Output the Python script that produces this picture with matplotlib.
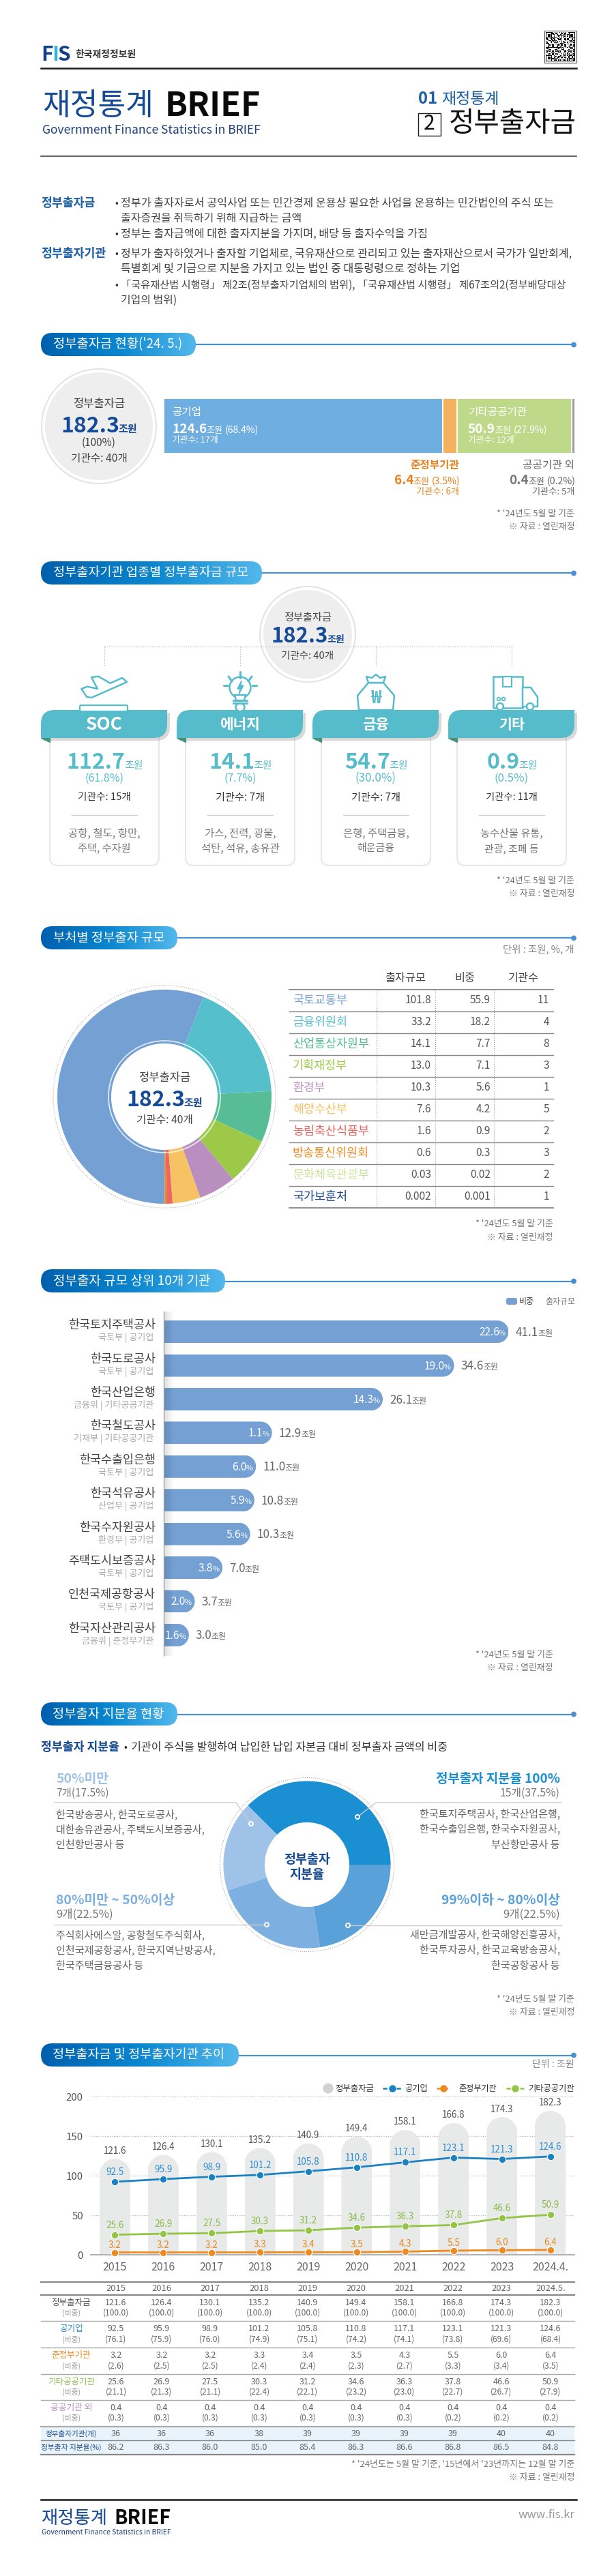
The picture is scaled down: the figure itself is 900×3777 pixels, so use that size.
import numpy as np
import matplotlib
matplotlib.use('Agg')
import matplotlib.pyplot as plt
from matplotlib.patches import Circle, FancyBboxPatch, PathPatch, Polygon, Rectangle, Ellipse
from matplotlib.path import Path
from matplotlib.colors import LinearSegmentedColormap

plt.rcParams['font.family'] = ['Noto Sans CJK KR', 'DejaVu Sans']

# ---- data ----
total_amount = '182.3'
total_count = '기관수: 40개'

# current status stacked bar
seg_names = ['공기업', '준정부기관', '기타공공기관', '공공기관 외']
seg_values = [124.6, 6.4, 50.9, 0.4]
seg_shares = ['68.4%', '3.5%', '27.9%', '0.2%']
seg_counts = [17, 6, 12, 5]
seg_colors = ['#6eaee0', '#f5b25e', '#bfd98a', '#a0a0a0']

# sectors
sector_names = ['SOC', '에너지', '금융', '기타']
sector_values = ['112.7', '14.1', '54.7', '0.9']
sector_shares = ['61.8%', '7.7%', '30.0%', '0.5%']
sector_counts = [15, 7, 7, 11]
sector_desc = [['공항, 철도, 항만,', '주택, 수자원'], ['가스, 전력, 광물,', '석탄, 석유, 송유관'],
               ['은행, 주택금융,', '해운금융'], ['농수산물 유통,', '관광, 조폐 등']]

# ministries
ministry_names = ['국토교통부', '금융위원회', '산업통상자원부', '기획재정부', '환경부', '해양수산부',
                  '농림축산식품부', '방송통신위원회', '문화체육관광부', '국가보훈처']
ministry_amount = ['101.8', '33.2', '14.1', '13.0', '10.3', '7.6', '1.6', '0.6', '0.03', '0.002']
ministry_share = [55.9, 18.2, 7.7, 7.1, 5.6, 4.2, 0.9, 0.3, 0.02, 0.001]
ministry_share_txt = ['55.9', '18.2', '7.7', '7.1', '5.6', '4.2', '0.9', '0.3', '0.02', '0.001']
ministry_count = [11, 4, 8, 3, 1, 5, 2, 3, 2, 1]
ministry_colors = ['#74a0d4', '#55bfcc', '#56bd96', '#9cc948', '#b98fc0', '#f7c263', '#ee6660', '#ee8a1f',
                   '#cde29a', '#1a4a8c']

# top 10
top_names = ['한국토지주택공사', '한국도로공사', '한국산업은행', '한국철도공사', '한국수출입은행',
             '한국석유공사', '한국수자원공사', '주택도시보증공사', '인천국제공항공사', '한국자산관리공사']
top_subs = ['국토부 | 공기업', '국토부 | 공기업', '금융위 | 기타공공기관', '기재부 | 기타공공기관', '국토부 | 공기업',
            '산업부 | 공기업', '환경부 | 공기업', '국토부 | 공기업', '국토부 | 공기업', '금융위 | 준정부기관']
top_amount = [41.1, 34.6, 26.1, 12.9, 11.0, 10.8, 10.3, 7.0, 3.7, 3.0]
top_share = ['22.6%', '19.0%', '14.3%', '1.1%', '6.0%', '5.9%', '5.6%', '3.8%', '2.0%', '1.6%']

# stake donut
stake_values = [37.5, 17.5, 22.5, 22.5]
stake_colors = ['#1a8fd1', '#9fc3e8', '#7db0e0', '#5aa1da']

# trend
years = ['2015', '2016', '2017', '2018', '2019', '2020', '2021', '2022', '2023', '2024.4.']
table_years = ['2015', '2016', '2017', '2018', '2019', '2020', '2021', '2022', '2023', '2024.5.']
gov_total = [121.6, 126.4, 130.1, 135.2, 140.9, 149.4, 158.1, 166.8, 174.3, 182.3]
public_corp = [92.5, 95.9, 98.9, 101.2, 105.8, 110.8, 117.1, 123.1, 121.3, 124.6]
quasi_gov = [3.2, 3.2, 3.2, 3.3, 3.4, 3.5, 4.3, 5.5, 6.0, 6.4]
other_pub = [25.6, 26.9, 27.5, 30.3, 31.2, 34.6, 36.3, 37.8, 46.6, 50.9]
non_pub = [0.4, 0.4, 0.4, 0.4, 0.4, 0.4, 0.4, 0.4, 0.4, 0.4]
total_pct = [100.0] * 10
public_pct = [76.1, 75.9, 76.0, 74.9, 75.1, 74.2, 74.1, 73.8, 69.6, 68.4]
quasi_pct = [2.6, 2.5, 2.5, 2.4, 2.4, 2.3, 2.7, 3.3, 3.4, 3.5]
other_pct = [21.1, 21.3, 21.1, 22.4, 22.1, 23.2, 23.0, 22.7, 26.7, 27.9]
non_pct = [0.3, 0.3, 0.3, 0.3, 0.3, 0.3, 0.3, 0.2, 0.2, 0.2]
agency_count = [36, 36, 36, 38, 39, 39, 39, 39, 40, 40]
stake_ratio = [86.2, 86.3, 86.0, 85.0, 85.4, 86.3, 86.6, 86.8, 86.5, 84.8]

NAVY = '#154a96'
TEAL = '#56bccb'
W, H = 900, 3777

fig = plt.figure(figsize=(W / 100, H / 100), dpi=100, facecolor='white')


def px_axes(z):
    a = fig.add_axes([0, 0, 1, 1], zorder=z)
    a.set_xlim(0, W)
    a.set_ylim(H, 0)
    a.axis('off')
    a.set_autoscale_on(False)
    return a


ax = px_axes(0)   # shapes under charts
ov = px_axes(5)   # text and marks over charts
rend = fig.canvas.get_renderer()


def inset(x0, y0, x1, y1):
    a = fig.add_axes([x0 / W, 1 - y1 / H, (x1 - x0) / W, (y1 - y0) / H], zorder=2)
    a.set_facecolor('none')
    return a


def put(x, y, s, size, color='#444444', weight='normal', ha='left', fit=None):
    t = ov.text(x, y, s, fontsize=size * 0.72, color=color, weight=weight, ha=ha, va='center')
    if fit:
        t.set_fontsize(t.get_fontsize() * fit / t.get_window_extent(rend).width)
    return t


def runs(x, y, parts, ha='center'):
    # several sizes on one baseline: (text, size, color, weight)
    base = y + 0.36 * max(p[1] for p in parts)
    items, total = [], 0
    for s, size, color, weight in parts:
        gap = 0.3 * size if s.startswith(' ') else 0
        t = ov.text(0, base, s.strip(), fontsize=size * 0.72, color=color, weight=weight, va='baseline')
        w = t.get_window_extent(rend).width - 0.05 * size
        items.append((t, gap, w))
        total += gap + w
    cx = x - total / 2 if ha == 'center' else (x - total if ha == 'right' else x)
    for t, gap, w in items:
        t.set_x(cx + gap)
        cx += gap + w


def notes(x, y, size=13.5, w1=114, w2=96, first="* '24년도 5월 말 기준"):
    put(x, y, first, size, '#777777', ha='right', fit=w1)
    put(x, y + 19.5, '※ 자료 : 열린재정', size, '#777777', ha='right', fit=w2)


pill_cmap = LinearSegmentedColormap.from_list('pill', ['#0060ae', '#0a86cf', '#52b8ec'])


def section(y0, y1, x1, text, tx0, tx1):
    ym = (y0 + y1) / 2 + 0.5
    ax.plot([x1, 841], [ym, ym], color='#4a90d0', lw=1.6)
    ax.add_patch(Circle((841, ym), 3.2, color='#4a90d0'))
    im = ax.imshow(np.linspace(0, 1, 200).reshape(1, -1), cmap=pill_cmap, aspect='auto',
                   extent=(60, x1, y1, y0), zorder=3)
    clip = FancyBboxPatch((60, y0), x1 - 60, y1 - y0, boxstyle='round,pad=0,rounding_size=%f' % ((y1 - y0) / 2),
                          transform=ax.transData, fc='none', ec='none')
    ax.add_patch(clip)
    im.set_clip_path(clip)
    put(tx0, ym - 0.5, text, 20, 'white', fit=tx1 - tx0)


def round_bar(a, bar, r, side):
    # clip a bar from the library to rounded corners on its free end (r in pixels)
    o = a.transData.transform((0, 0))
    p = a.transData.transform((1, 1))
    rx, ry = r / abs(p[0] - o[0]), r / abs(p[1] - o[1])
    x0, y0 = bar.get_x(), bar.get_y()
    x1, y1 = x0 + bar.get_width(), y0 + bar.get_height()
    k = 0.45
    if side == 'right':
        v = [(x0 - 1, y0), (x1 - rx, y0), (x1 - rx * k, y0), (x1, y0 + ry * k), (x1, y0 + ry),
             (x1, y1 - ry), (x1, y1 - ry * k), (x1 - rx * k, y1), (x1 - rx, y1), (x0 - 1, y1), (x0 - 1, y0)]
    else:
        v = [(x0, y0 - 1), (x0, y1 - ry), (x0, y1 - ry * k), (x0 + rx * k, y1), (x0 + rx, y1),
             (x1 - rx, y1), (x1 - rx * k, y1), (x1, y1 - ry * k), (x1, y1 - ry), (x1, y0 - 1), (x0, y0 - 1)]
    c = [Path.MOVETO, Path.LINETO, Path.CURVE4, Path.CURVE4, Path.CURVE4, Path.LINETO,
         Path.CURVE4, Path.CURVE4, Path.CURVE4, Path.LINETO, Path.CLOSEPOLY]
    bar.set_clip_path(Path(v, c), a.transData)


def tab_shape(x0, y0, x1, y1, r):
    # top-left and bottom-right corners rounded
    v = [(x0, y1), (x0, y0 + r), (x0, y0), (x0 + r, y0), (x1, y0), (x1, y1 - r), (x1, y1), (x1 - r, y1), (x0, y1), (x0, y1)]
    c = [Path.MOVETO, Path.LINETO, Path.CURVE3, Path.CURVE3, Path.LINETO, Path.LINETO, Path.CURVE3, Path.CURVE3,
         Path.LINETO, Path.CLOSEPOLY]
    return Path(v, c)


# ---- header ----
runs(60, 78, [('F', 30, '#123f8c', 'bold'), ('I', 30, '#33b5d8', 'bold'), ('S', 30, '#123f8c', 'bold')], ha='left')
put(110, 80, '한국재정정보원', 14, '#333333', 'bold', fit=89)
# QR block, decorative only
qr = np.array([[(i * j + (i ^ j) * 3) % 5 < 2 for j in range(33)] for i in range(33)], dtype=float)
for fy, fx in [(0, 0), (0, 26), (26, 0)]:
    qr[fy:fy + 7, fx:fx + 7] = 1
    qr[fy + 1:fy + 6, fx + 1:fx + 6] = 0
    qr[fy + 2:fy + 5, fx + 2:fx + 5] = 1
ax.imshow(1 - qr, cmap='gray', extent=(800, 843, 90, 47), aspect='auto', interpolation='nearest', zorder=2)
ax.add_patch(Rectangle((798, 45), 47, 47, fc='none', ec='#555555', lw=0.8, zorder=3))
ax.plot([60, 845], [100, 100], color='#1a1a1a', lw=1.8)
put(62, 155, '재정통계', 44, NAVY, fit=163)
put(242, 155, 'BRIEF', 52, '#0a0a0a', 'bold', fit=141)
put(62, 191, 'Government Finance Statistics in BRIEF', 16, '#1d3f77', fit=320)
runs(613, 143, [('01', 24, '#1a5fa8', 'bold'), (' 재정통계', 23, '#1a5fa8', 'normal')], ha='left')
ax.add_patch(Rectangle((613, 166), 33, 33, fc='white', ec='#222222', lw=1))
put(629.5, 182, '2', 30, '#111111', ha='center')
put(658, 182, '정부출자금', 40, '#111111', fit=187)
ax.plot([60, 845], [229.5, 229.5], color='#444444', lw=1.2)

# ---- definitions ----
put(60, 298, '정부출자금', 17, '#1a5fa8', 'bold', fit=79)
put(60, 372, '정부출자기관', 17, '#1a5fa8', 'bold', fit=95)
body_lines = [(298, True, '정부가 출자자로서 공익사업 또는 민간경제 운용상 필요한 사업을 운용하는 민간법인의 주식 또는', 631),
              (320, False, '출자증권을 취득하기 위해 지급하는 금액', 264),
              (343, True, '정부는 출자금액에 대한 출자지분을 가지며, 배당 등 출자수익을 가짐', 448),
              (372, True, '정부가 출자하였거나 출자할 기업체로, 국유재산으로 관리되고 있는 출자재산으로서 국가가 일반회계,', 660),
              (394, False, '특별회계 및 기금으로 지분을 가지고 있는 법인 중 대통령령으로 정하는 기업', 496),
              (418, True, '「국유재산법 시행령」 제2조(정부출자기업체의 범위), 「국유재산법 시행령」 제67조의2(정부배당대상', 651),
              (440, False, '기업의 범위)', 82)]
for y, bullet, s, w in body_lines:
    if bullet:
        put(168, y, '•', 14, '#333333')
    put(177, y, s, 15, '#444444', fit=w)

# ---- section 1 ----
section(488, 522, 287, "정부출자금 현황('24. 5.)", 78, 267)
ax.add_patch(Circle((145, 625), 84, fc='white', ec='#e2e2e2', lw=1.4))
ax.add_patch(Circle((145, 625), 79, fc='#eeeeee', ec='none'))
put(145, 592, '정부출자금', 17, '#444444', ha='center', fit=76)
runs(145, 622, [(total_amount, 32, NAVY, 'bold'), ('조원', 15, NAVY, 'bold')])
put(145, 649, '(100%)', 15, '#444444', ha='center', fit=50)
put(145, 673, total_count, 14, '#444444', ha='center', fit=83)

bar_ax = inset(240, 584, 843, 665)
draw_vals = np.maximum(seg_values, 1.6)   # smallest piece would vanish otherwise
left = 0
for v, c in zip(draw_vals, seg_colors):
    bar_ax.barh(0, v, left=left, height=1, color=c, edgecolor='white', linewidth=1.3)
    left += v
bar_ax.set_xlim(0, left)
bar_ax.set_ylim(-0.5, 0.5)
bar_ax.axis('off')

put(252, 605, seg_names[0], 17, 'white', fit=43)
runs(252, 628, [('124.6', 19, 'white', 'bold'), ('조원', 13, 'white', 'normal'), (' (68.4%)', 14, 'white', 'normal')], ha='left')
put(252, 646, '기관수: %d개' % seg_counts[0], 13, 'white', fit=68)
put(686, 605, seg_names[2], 17, 'white', fit=86)
runs(686, 628, [('50.9', 19, 'white', 'bold'), ('조원', 13, 'white', 'normal'), (' (27.9%)', 14, 'white', 'normal')], ha='left')
put(686, 646, '기관수: %d개' % seg_counts[2], 13, 'white', fit=68)
put(673, 682, seg_names[1], 17, '#e8821e', 'bold', ha='right', fit=72)
runs(674, 703, [('6.4', 19, '#e8821e', 'bold'), ('조원', 13, '#e8821e', 'normal'), (' (3.5%)', 14, '#e8821e', 'normal')], ha='right')
put(673, 721, '기관수: %d개' % seg_counts[1], 13, '#e8821e', ha='right', fit=63)
put(842, 682, seg_names[3], 17, '#666666', ha='right', fit=76)
runs(843, 703, [('0.4', 19, '#777777', 'bold'), ('조원', 13, '#666666', 'normal'), (' (0.2%)', 14, '#666666', 'normal')], ha='right')
put(842, 721, '기관수: %d개' % seg_counts[3], 13, '#666666', ha='right', fit=63)
notes(842, 753)

# ---- section 2 ----
section(823, 857, 384, '정부출자기관 업종별 정부출자금 규모', 78, 364)
centers = [153, 352, 551, 750]
ax.plot([153, 750], [947.7, 947.7], color='#bbbbbb', lw=0.9, ls=':')
for cx in centers:
    ax.plot([cx, cx], [947.7, 977], color='#bbbbbb', lw=0.9, ls=':')
ax.add_patch(Circle((451, 930), 70, fc='white', ec='#e2e2e2', lw=1.4))
ax.add_patch(Circle((451, 930), 65, fc='#eeeeee', ec='none'))
put(451, 905, '정부출자금', 16, '#444444', ha='center', fit=70)
runs(451, 931, [(total_amount, 31, NAVY, 'bold'), ('조원', 14, NAVY, 'bold')])
put(451, 962, total_count, 14, '#444444', ha='center', fit=77)

for i, cx in enumerate(centers):
    ax.add_patch(FancyBboxPatch((cx - 80, 1062), 160, 207, boxstyle='round,pad=0,rounding_size=12',
                                fc='white', ec='#e0e0e0', lw=1.1))
    ax.add_patch(Polygon([(cx - 93, 1082), (cx - 80.5, 1082), (cx - 80.5, 1088)], color='#3a9a80'))
    ax.add_patch(PathPatch(tab_shape(cx - 89, 1045, cx + 96, 1086, 20), fc='#777777', ec='none', alpha=0.28))
    ax.add_patch(PathPatch(tab_shape(cx - 93, 1041, cx + 92, 1082, 20), fc=TEAL, ec='none'))
    put(cx, 1062, sector_names[i], 24, 'white', 'bold', ha='center', fit=[54, 59, 39, 38][i])
    runs(cx, 1115, [(sector_values[i], 32, TEAL, 'bold'), ('조원', 15, TEAL, 'normal')])
    put(cx, 1141, '(%s)' % sector_shares[i], 17, TEAL, ha='center', fit=[57, 47, 60, 50][i])
    put(cx, 1169, '기관수: %d개' % sector_counts[i], 15, '#333333', ha='center', fit=[78, 72, 72, 76][i])
    ax.plot([cx - 48, cx + 48], [1195, 1195], color='#cccccc', lw=0.9)
    put(cx, 1222, sector_desc[i][0], 16, '#777777', ha='center', fit=[106, 105, 97, 92][i])
    put(cx, 1244, sector_desc[i][1], 16, '#777777', ha='center', fit=[78, 115, 55, 80][i])

# icons
plane = [(119.4, 1010), (128, 1006.7), (143, 1010), (134, 993), (144, 991.7), (161.6, 1001.7), (179, 994),
         (186, 1000), (134, 1023), (127, 1021.7)]
ax.add_patch(Polygon(plane, fc='white', ec=TEAL, lw=1.8, joinstyle='round'))
ax.add_patch(FancyBboxPatch((117, 1034), 70, 9, boxstyle='round,pad=0,rounding_size=2', fc='white', ec=TEAL, lw=1.6))
ax.add_patch(Circle((352, 1008), 15.5, fc='white', ec=TEAL, lw=1.8))
ax.add_patch(Polygon([(344, 1019), (360, 1019), (358, 1027), (346, 1027)], fc='white', ec=TEAL, lw=1.8))
ax.plot([342, 362], [1027, 1027], color=TEAL, lw=2)
ax.plot([342, 362], [1031, 1031], color=TEAL, lw=2)
ax.add_patch(Ellipse((352, 1037), 13, 12, fc='white', ec=TEAL, lw=1.8))
ax.add_patch(Polygon([(354, 998), (348, 1010), (352, 1010), (350, 1018), (357, 1005), (353, 1005)], color=TEAL))
for x0, y0, x1, y1 in [(352, 985, 352, 994), (335, 992, 340, 999), (369, 992, 364, 999), (328, 1005, 334, 1005),
                       (376, 1005, 370, 1005)]:
    ax.plot([x0, x1], [y0, y1], color=TEAL, lw=2.2, solid_capstyle='round')
bag_v = [(526, 1041), (524, 1020), (540, 1001), (562, 1001), (578, 1020), (576, 1041)]
ax.add_patch(Polygon(bag_v, fc='white', ec=TEAL, lw=1.8, joinstyle='round'))
ax.add_patch(Polygon([(540, 1001), (537, 992), (545, 994), (551, 989), (557, 994), (565, 992), (562, 1001)],
                     fc='white', ec=TEAL, lw=1.8, joinstyle='round'))
put(551, 1023, '₩', 26, TEAL, 'bold', ha='center')
ax.add_patch(Rectangle((723, 992), 43, 46, fc='white', ec=TEAL, lw=1.8))
ax.add_patch(Rectangle((737, 992), 13, 15, fc='white', ec=TEAL, lw=1.5))
ax.add_patch(Polygon([(766, 1008), (778, 1008), (788, 1022), (788, 1036), (766, 1036)], fc='white', ec=TEAL, lw=1.8))
for wx in (733, 777):
    ax.add_patch(Circle((wx, 1036), 5, fc='white', ec=TEAL, lw=1.8))
for wx in (731, 738):
    ax.add_patch(Circle((wx, 1025), 2.4, fc='white', ec=TEAL, lw=1.3))
notes(842, 1291)

# ---- section 3 ----
section(1358, 1392, 260, '부처별 정부출자 규모', 78, 241)
put(842, 1392, '단위 : 조원, %, 개', 13, '#888888', ha='right', fit=105)
ax.add_patch(Circle((241, 1608), 163, fc='none', ec='#aaaaaa', lw=0.8, ls=':'))
pie_ax = inset(241 - 157, 1608 - 157, 241 + 157, 1608 + 157)
pie_ax.pie(ministry_share, colors=ministry_colors, startangle=270, counterclock=False,
           wedgeprops=dict(width=0.503, linewidth=0))
pie_ax.set_xlim(-1, 1)
pie_ax.set_ylim(-1, 1)
ov.add_patch(Circle((241, 1608), 82, fc='none', ec='white', lw=1.2, alpha=0.8))
put(241, 1580, '정부출자금', 17, '#444444', ha='center', fit=76)
runs(241, 1610, [(total_amount, 32, NAVY, 'bold'), ('조원', 15, NAVY, 'bold')])
put(241, 1642, total_count, 15, '#444444', ha='center', fit=83)

table_top = 1451
row_h = 31.95
for x, s, w in zip([594, 681, 767], ['출자규모', '비중', '기관수'], [60, 30, 45]):
    put(x, 1434, s, 16, '#444444', ha='center', fit=w)
for i in range(11):
    y = table_top + i * row_h
    ax.plot([424, 811], [y, y], color='#888888', lw=1.3 if i in (0, 10) else 1.0)
for x in (552, 638, 724):
    ax.plot([x, x], [table_top, table_top + 10 * row_h], color='#999999', lw=0.8, ls=':')
for i in range(10):
    y = table_top + (i + 0.5) * row_h
    put(429, y, ministry_names[i], 16.5, ministry_colors[i], fit=80 if len(ministry_names[i]) == 5 else (47 if i == 4 else 112))
    put(632, y, ministry_amount[i], 15.5, '#555555', ha='right')
    put(719, y, ministry_share_txt[i], 15.5, '#555555', ha='right')
    put(805, y, str(ministry_count[i]), 15.5, '#555555', ha='right')
notes(811, 1794.5)

# ---- section 4 ----
section(1861, 1895, 330, '정부출자 규모 상위 10개 기관', 78, 308)
ax.add_patch(FancyBboxPatch((742, 1903), 16, 10, boxstyle='round,pad=0,rounding_size=3', fc='#74a0d4', ec='none'))
put(761, 1908, '비중', 12.5, '#444444', fit=22)
put(843, 1908, '출자규모', 12.5, '#777777', ha='right', fit=44)

hb = inset(240, 1923, 850, 2428)
y_pos = np.arange(len(top_amount))
bars = hb.barh(y_pos, top_amount, height=0.668, color='#74a0d4')
scale = 505.5 / top_amount[0]
hb.set_xlim(0, 610 / scale)
hb.set_ylim(9.62, -0.6)
for s in ['top', 'right', 'bottom']:
    hb.spines[s].set_visible(False)
hb.spines['left'].set_color('#bbbbbb')
hb.spines['left'].set_linewidth(1)
hb.set_xticks([])
hb.set_yticks([])
for b in bars:
    round_bar(hb, b, 16.5, 'right')
shade = np.zeros((1, 60, 4))
shade[0, :, 3] = np.linspace(0.13, 0, 60)
hb.imshow(shade, extent=(0, 15 / scale, 9.62, -0.6), aspect='auto', zorder=3)
hb.set_xlim(0, 610 / scale)
hb.set_ylim(9.62, -0.6)
for i, v in enumerate(top_amount):
    yy = 1952.6 + 49.4 * i
    xe = 240 + v * scale
    put(228, yy - 9.5, top_names[i], 17, '#444444', ha='right', fit=16 * len(top_names[i]))
    put(225, yy + 9, top_subs[i], 13, '#aaaaaa', ha='right')
    runs(xe - 5, yy, [(top_share[i][:-1], 15.5, 'white', 'normal'), ('%', 11, 'white', 'normal')], ha='right')
    runs(xe + 10, yy, [('%.1f' % v, 17, '#666666', 'normal'), ('조원', 12, '#666666', 'normal')], ha='left')
notes(811, 2426)

# ---- section 5 ----
section(2496, 2530, 260, '정부출자 지분율 현황', 77, 240)
put(60, 2562, '정부출자 지분율', 17, NAVY, 'bold', fit=115)
put(181, 2562, '•', 14, '#222222')
put(192, 2562, '기관이 주식을 발행하여 납입한 납입 자본금 대비 정부출자 금액의 비중', 15, '#333333', fit=462)

ax.add_patch(Circle((450, 2734), 127.5, fc='none', ec='#aaaaaa', lw=0.8, ls=':'))
d2 = inset(450 - 122.6, 2734 - 122.6, 450 + 122.6, 2734 + 122.6)
d2.pie(stake_values, colors=stake_colors, startangle=0, wedgeprops=dict(width=0.494, linewidth=0))
d2.set_xlim(-1, 1)
d2.set_ylim(-1, 1)
put(450, 2726, '정부출자', 19, NAVY, 'bold', ha='center', fit=68)
put(450, 2748, '지분율', 19, NAVY, 'bold', ha='center', fit=51)

ov.plot([524, 551, 823], [2664, 2643, 2643], color='#cccccc', lw=1)
ov.plot([368, 346, 80], [2674, 2643, 2643], color='#cccccc', lw=1)
ov.plot([80, 391], [2822, 2822], color='#cccccc', lw=1)
ov.plot([510, 823], [2823, 2823], color='#cccccc', lw=1)
for mx, my, mc in [(524, 2664, stake_colors[0]), (368, 2674, stake_colors[1]), (391, 2822, stake_colors[2]),
                   (510, 2823, stake_colors[3])]:
    ov.add_patch(Circle((mx, my), 3, fc=mc, ec='white', lw=1.4, zorder=4))

stake_blocks = [(82, 'left', 2608, '50%미만', stake_colors[1], 77, '7개(17.5%)', 78,
                 ['한국방송공사, 한국도로공사,', '대한송유관공사, 주택도시보증공사,', '인천항만공사 등'], [177, 218, 100]),
                (821, 'right', 2608, '정부출자 지분율 100%', stake_colors[0], 182, '15개(37.5%)', 88,
                 ['한국토지주택공사, 한국산업은행,', '한국수출입은행, 한국수자원공사,', '부산항만공사 등'], [205, 205, 100]),
                (82, 'left', 2786, '80%미만 ~ 50%이상', stake_colors[2], 174, '9개(22.5%)', 84,
                 ['주식회사에스알, 공항철도주식회사,', '인천국제공항공사, 한국지역난방공사,', '한국주택금융공사 등'], [218, 232, 128]),
                (821, 'right', 2786, '99%이하 ~ 80%이상', stake_colors[3], 174, '9개(22.5%)', 84,
                 ['새만금개발공사, 한국해양진흥공사,', '한국투자공사, 한국교육방송공사,', '한국공항공사 등'], [219, 205, 100])]
for bx, ha, by, head, col, hw, cnt, cw, names, nw in stake_blocks:
    put(bx, by, head, 18, col, 'bold', ha=ha, fit=hw)
    put(bx, by + 21.5, cnt, 16, '#777777', ha=ha, fit=cw)
    off = 52 if by == 2608 else 51
    for k, n in enumerate(names):
        put(bx, by + off + k * 22.5, n, 15, '#666666', ha=ha, fit=nw[k])
notes(842, 2931)

# ---- section 6 ----
section(2996, 3030, 350, '정부출자금 및 정부출자기관 추이', 77, 329)
put(842, 3027, '단위 : 조원', 13, '#888888', ha='right', fit=62)

ch = inset(133, 3074.3, 842, 3306.3)
x = np.arange(len(years))
columns = ch.bar(x, gov_total, width=0.635, color='#e8eaea', zorder=2)
ch.set_xlim(-0.5, 9.5)
ch.set_ylim(0, 200)
for b in columns:
    round_bar(ch, b, 22.5, 'top')
ch.set_yticks([0, 50, 100, 150, 200])
ch.set_xticks(x)
ch.set_xticklabels(years, fontsize=16 * 0.72, color='#666666')
ch.set_yticklabels(['0', '50', '100', '150', '200'], fontsize=15 * 0.72, color='#555555')
ch.tick_params(axis='both', length=0)
ch.tick_params(axis='x', pad=7)
ch.tick_params(axis='y', pad=8)
for s in ['top', 'right', 'left']:
    ch.spines[s].set_visible(False)
ch.spines['bottom'].set_color('#aaaaaa')
ch.spines['bottom'].set_linewidth(1.3)
ch.grid(axis='y', color='#aaaaaa', lw=0.7, ls=':')
ch.set_axisbelow(True)
line_styles = [(quasi_gov, '#ee8a1f', '#e8881e', 11), (other_pub, '#93c444', '#8cbb4a', 14), (public_corp, '#1a82c4', '#2e8fd0', 14)]
for vals, lc, tc, off in line_styles:
    ch.plot(x, vals, color=lc, lw=2, marker='o', ms=7.5, mec='white', mew=0.8, zorder=4, clip_on=False)
    for xi, v in zip(x, vals):
        ch.annotate('%.1f' % v, (xi, v), xytext=(0, off * 0.72), textcoords='offset points', ha='center', va='center',
                    fontsize=13.5 * 0.72, color=tc, zorder=5, annotation_clip=False)
for xi, v in zip(x, gov_total):
    ch.annotate('%.1f' % v, (xi, v), xytext=(0, 11.5 * 0.72), textcoords='offset points', ha='center', va='center',
                fontsize=13.5 * 0.72, color='#555555', zorder=5, annotation_clip=False)

# legend
ax.add_patch(Circle((481, 3062), 7.5, fc='#cfd2d2', ec='none'))
put(491, 3062, '정부출자금', 13, '#333333', fit=57)
for x0, x1, c, lab, tx, tw in [(561, 588, '#1a82c4', '공기업', 593, 34), (640, 659, '#ee8a1f', '준정부기관', 672, 56),
                               (742, 768, '#93c444', '기타공공기관', 774, 68)]:
    ax.plot([x0, x1], [3062, 3062], color=c, lw=1.8, ls=(0, (2.5, 1.5)))
    ax.plot([(x0 + x1) / 2], [3062], marker='o', ms=6.5, color=c)
    put(tx, 3062, lab, 13, '#333333', fit=tw)

# data table
col_x = [170, 237, 308, 380, 451, 522, 593, 664, 735, 807]
ax.add_patch(Rectangle((60, 3558), 782, 41, fc='#e8f3fb', ec='none'))
for y, c, lw in [(3345.7, '#888888', 1.6), (3364.7, '#888888', 1.6), (3403, '#aaaaaa', 1), (3442, '#aaaaaa', 1),
                 (3480.7, '#aaaaaa', 1), (3519, '#aaaaaa', 1), (3558, '#aaaaaa', 1.6), (3578, '#888888', 1),
                 (3599, '#888888', 1.6)]:
    ax.plot([60, 842], [y, y], color=c, lw=lw)
for cx, s in zip(col_x, table_years):
    put(cx, 3355, s, 13, '#666666', ha='center')
table_rows = [(3376, '정부출자금', '#555555', 58, gov_total, total_pct),
              (3414.7, '공기업', '#3090d0', 35, public_corp, public_pct),
              (3453.7, '준정부기관', '#ee8a1f', 58, quasi_gov, quasi_pct),
              (3492, '기타공공기관', '#8cc04a', 69, other_pub, other_pct),
              (3530, '공공기관 외', '#b98fc0', 62, non_pub, non_pct)]
for y, lab, c, w, vals, pct in table_rows:
    put(104.5, y, lab, 13, c, ha='center', fit=w)
    put(104.5, y + 15.5, '(비중)', 11, '#999999', ha='center', fit=27)
    for cx, v, p in zip(col_x, vals, pct):
        put(cx, y, '%.1f' % v, 12.5, '#666666', ha='center')
        put(cx, y + 15.5, '(%.1f)' % p, 12, '#666666', ha='center')
put(104.5, 3568.3, '정부출자기관(개)', 13, '#1a4a8c', ha='center', fit=76)
put(104.5, 3588.7, '정부출자 지분율(%)', 13, '#1a4a8c', ha='center', fit=89)
for cx, a, s in zip(col_x, agency_count, stake_ratio):
    put(cx, 3568.3, str(a), 12.5, '#666666', ha='center')
    put(cx, 3588.7, '%.1f' % s, 12.5, '#666666', ha='center')
notes(842, 3613, w1=326, first="* '24년도는 5월 말 기준, '15년에서 '23년까지는 12월 말 기준")

# ---- footer ----
ax.plot([60, 845], [3664.7, 3664.7], color='#1a1a1a', lw=1.8)
put(61, 3692, '재정통계', 27, NAVY, fit=97)
put(167, 3692, 'BRIEF', 33, '#0a0a0a', 'bold', fit=83)
put(61, 3713, 'Government Finance Statistics in BRIEF', 10, '#1d3f77', fit=189)
put(842, 3687, 'www.fis.kr', 16, '#999999', ha='right', fit=83)

fig.savefig('out.png', dpi=100)
